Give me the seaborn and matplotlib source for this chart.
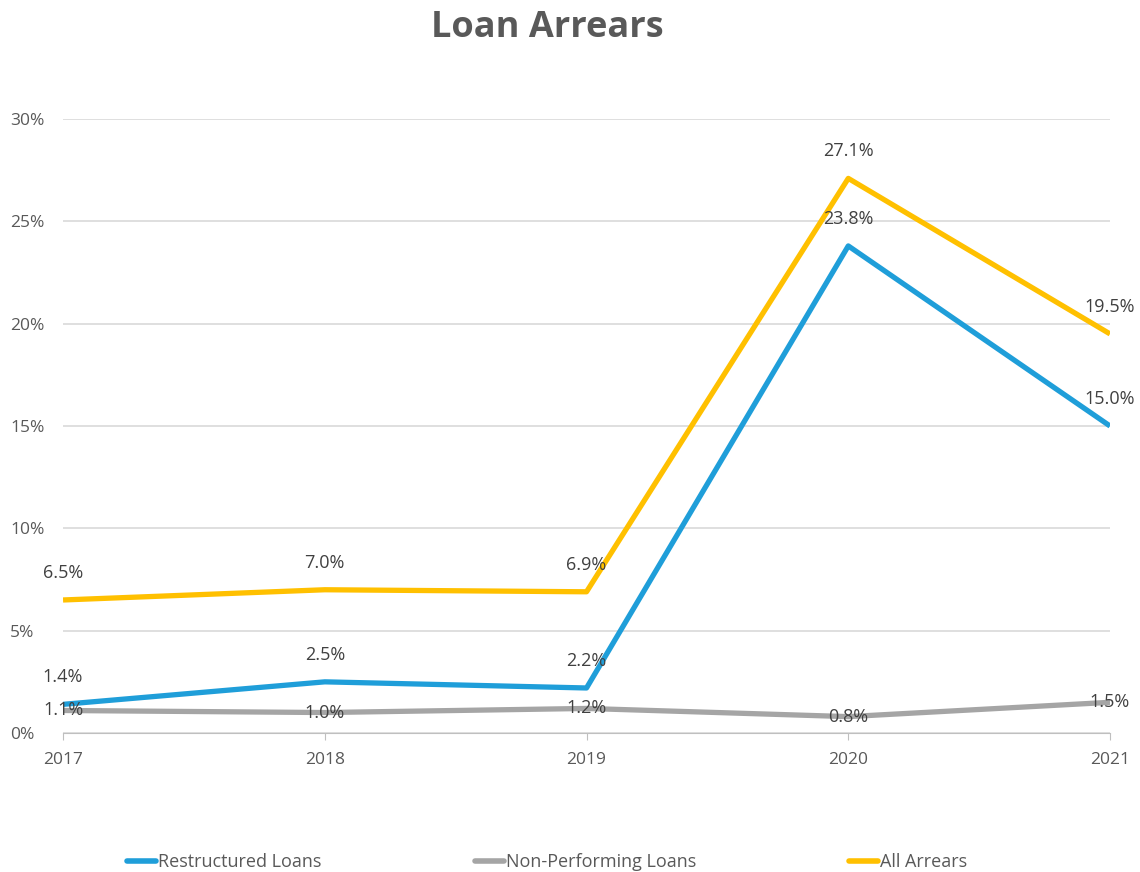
import pandas as pd
import matplotlib.pyplot as plt
import seaborn as sns

# data
years = [2017, 2018, 2019, 2020, 2021]
restructured = [1.4, 2.5, 2.2, 23.8, 15.0]
non_performing = [1.1, 1.0, 1.2, 0.8, 1.5]
all_arrears = [6.5, 7.0, 6.9, 27.1, 19.5]
series_names = ['Restructured Loans', 'Non-Performing Loans', 'All Arrears']
colors = ['#1F9ED9', '#A5A5A5', '#FFC000']

df = pd.DataFrame({'year': years * 3,
                   'value': restructured + non_performing + all_arrears,
                   'series': [s for s in series_names for _ in years]})

sns.set_style('white')
plt.rcParams['font.family'] = ['Open Sans', 'DejaVu Sans']
text_col = '#595959'

fig = plt.figure(figsize=(11.4, 8.72), dpi=100)
ax = fig.add_axes([0.0553, 0.1594, 0.9184, 0.7041])

sns.lineplot(data=df, x='year', y='value', hue='series', palette=colors,
             hue_order=series_names, linewidth=3.8, ax=ax, legend=False,
             solid_capstyle='butt')

ax.set_xlim(2017, 2021)
ax.set_ylim(0, 30)
ax.set_yticks(range(0, 31, 5))
ax.set_yticklabels([f'{v}%' for v in range(0, 31, 5)])
ax.set_xticks(years)
ax.set_xticklabels([str(y) for y in years])
ax.grid(axis='y', color='#D9D9D9', linewidth=1.2)
ax.set_axisbelow(True)
for s in ['top', 'right', 'left']:
    ax.spines[s].set_visible(False)
ax.spines['bottom'].set_color('#BFBFBF')
ax.tick_params(axis='x', length=5, color='#BFBFBF', colors=text_col,
               labelsize=12.5, pad=9, bottom=True)
ax.tick_params(axis='y', length=0, colors=text_col, labelsize=12.5, pad=38)
for lbl in ax.get_yticklabels():
    lbl.set_horizontalalignment('left')
ax.set_xlabel('')
ax.set_ylabel('')

# value labels: blue/yellow above the point, gray centred on it
for vals, dy in [(restructured, 27), (all_arrears, 27), (non_performing, 0)]:
    for x, v in zip(years, vals):
        ax.annotate(f'{v:.1f}%', (x, v), xytext=(0, dy), textcoords='offset pixels',
                    ha='center', va='center', fontsize=13, color='#404040',
                    annotation_clip=False)

fig.suptitle('Loan Arrears', x=0.48, y=0.988, fontsize=26, fontweight='bold',
             color=text_col)

handles = [plt.Line2D([], [], color=c, linewidth=4, solid_capstyle='round')
           for c in colors]
fig.legend(handles, series_names, loc='lower center', ncol=3, frameon=False,
           bbox_to_anchor=(0.48, -0.018), fontsize=13, handlelength=1.6,
           handletextpad=0.1, columnspacing=8.5, labelcolor=text_col)

fig.savefig('out.png', dpi=100)
